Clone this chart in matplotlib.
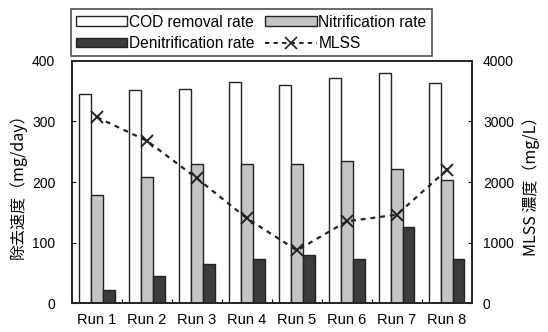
import matplotlib
matplotlib.use("Agg")
import matplotlib.pyplot as plt
import numpy as np
from matplotlib.patches import Patch
from matplotlib.lines import Line2D

plt.rcParams['font.family'] = ['Liberation Sans', 'Noto Sans CJK JP', 'DejaVu Sans']

runs = ["Run 1", "Run 2", "Run 3", "Run 4", "Run 5", "Run 6", "Run 7", "Run 8"]
cod_removal = [346, 352, 354, 366, 360, 372, 380, 364]
nitrification = [178, 208, 230, 229, 230, 234, 222, 204]
denitrification = [22, 45, 65, 73, 79, 72, 126, 72]
mlss = [3070, 2680, 2060, 1400, 870, 1350, 1460, 2200]

fig = plt.figure(figsize=(5.48, 3.32), dpi=100)
ax = fig.add_axes([0.1314, 0.0873, 0.7296, 0.729])
ax2 = ax.twinx()

x = np.arange(len(runs))
w = 0.235
ec = '#222222'
ax.bar(x - w, cod_removal, w, color='white', edgecolor=ec, linewidth=1.0, zorder=2)
ax.bar(x, nitrification, w, color='#c4c4c4', edgecolor=ec, linewidth=1.0, zorder=2)
ax.bar(x + w, denitrification, w, color='#3c3c3c', edgecolor=ec, linewidth=1.0, zorder=2)

ax2.plot(x, mlss, linestyle=(0, (2.2, 2.2)), color='#222222', linewidth=1.6,
         marker='x', markersize=9, markeredgewidth=1.4, zorder=3)

ax.set_xlim(-0.5, len(runs) - 0.5)
ax.set_ylim(0, 400)
ax2.set_ylim(0, 4000)
ax.set_yticks([0, 100, 200, 300, 400])
ax2.set_yticks([0, 1000, 2000, 3000, 4000])
ax.set_xticks(x)
ax.set_xticklabels(runs)
ax.set_xticks(np.arange(0.5, len(runs) - 1, 1.0), minor=True)
ax.tick_params(axis='x', which='major', length=0, pad=7, labelsize=10.5)
ax.tick_params(axis='x', which='minor', direction='in', length=3, width=0.8)
ax.tick_params(axis='y', direction='in', length=3, width=0.8, pad=12, labelsize=10)
ax2.tick_params(axis='y', direction='in', length=3, width=0.8, pad=8, labelsize=10)

for a in (ax, ax2):
    for sp in a.spines.values():
        sp.set_linewidth(1.2)
        sp.set_color('#222222')

ax.set_ylabel("除去速度（mg/day）", fontsize=11.5, labelpad=4,
              family=['Noto Sans CJK JP', 'DejaVu Sans'])
ax2.set_ylabel("MLSS 濃度（mg/L）", fontsize=11.5, labelpad=6, rotation=90,
               family=['Noto Sans CJK JP', 'DejaVu Sans'])

handles = [
    Patch(facecolor='white', edgecolor=ec, label='COD removal rate'),
    Patch(facecolor='#3c3c3c', edgecolor=ec, label='Denitrification rate'),
    Patch(facecolor='#c4c4c4', edgecolor=ec, label='Nitrification rate'),
    Line2D([0], [0], linestyle=(0, (2.2, 2.2)), color='#222222', linewidth=1.4,
           marker='x', markersize=8, markeredgewidth=1.2, label='MLSS'),
]
leg = fig.legend(handles=handles, ncol=2, loc='upper left',
                 bbox_to_anchor=(0.129, 0.972), frameon=True, fancybox=False,
                 edgecolor='#222222', fontsize=11.2, handlelength=3.3,
                 handleheight=0.6, handletextpad=0.1, columnspacing=0.7,
                 borderpad=0.35, labelspacing=0.4, borderaxespad=0)
leg.get_frame().set_linewidth(1.2)

fig.savefig("out.png", dpi=100)
